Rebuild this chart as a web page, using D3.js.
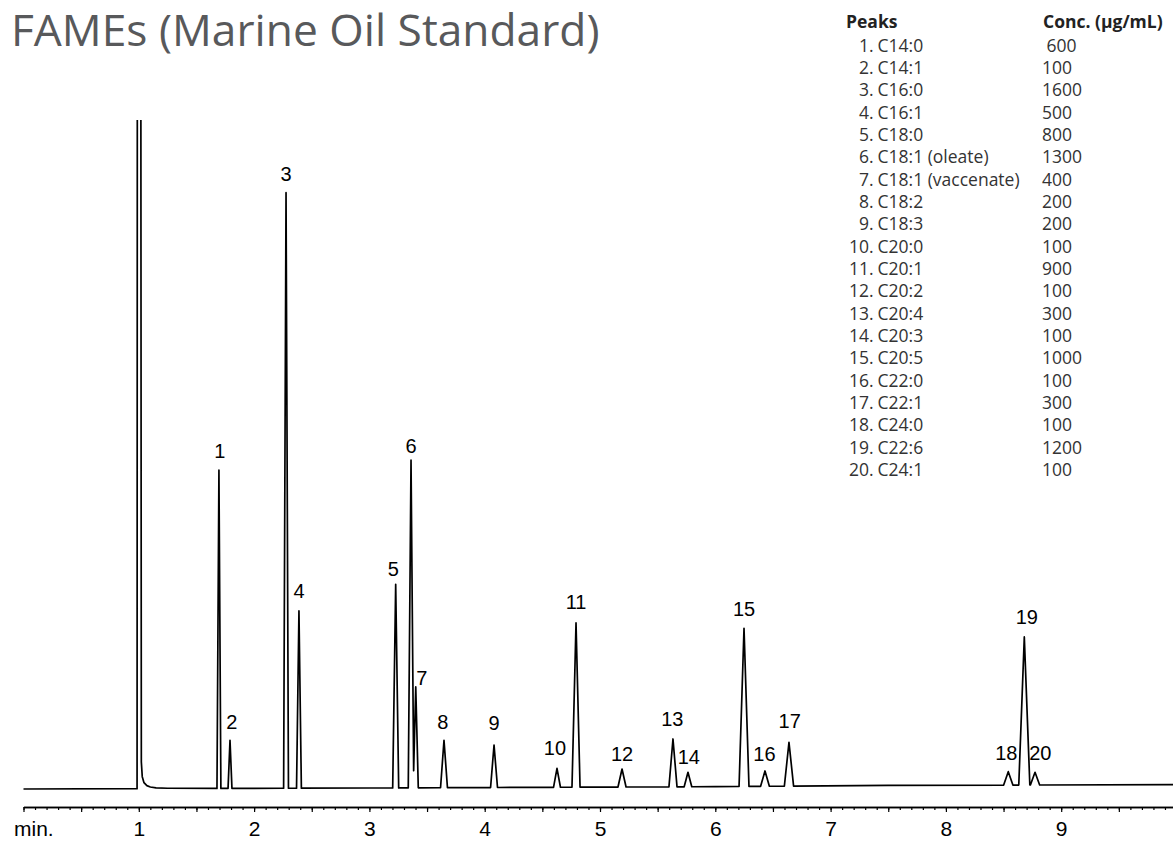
<!DOCTYPE html>
<html>
<head>
<meta charset="utf-8">
<script src="https://cdn.jsdelivr.net/npm/d3@7"></script>
<style>
  html, body { margin: 0; padding: 0; background: #ffffff; }
  svg { display: block; }
</style>
</head>
<body>
<svg id="chart" width="1173" height="841"></svg>
<script>
// ---------------- DATA ----------------
const chartTitle = "FAMEs (Marine Oil Standard)";
const legendHeaderPeaks = "Peaks";
const legendHeaderConc = "Conc. (µg/mL)";

const peakNumbers = [1, 2, 3, 4, 5, 6, 7, 8, 9, 10, 11, 12, 13, 14, 15, 16, 17, 18, 19, 20];
const peakNames = ["C14:0", "C14:1", "C16:0", "C16:1", "C18:0", "C18:1 (oleate)", "C18:1 (vaccenate)",
  "C18:2", "C18:3", "C20:0", "C20:1", "C20:2", "C20:4", "C20:3", "C20:5", "C22:0", "C22:1",
  "C24:0", "C22:6", "C24:1"];
const peakConc = [" 600", "100", "1600", "500", "800", "1300", "400", "200", "200", "100", "900",
  "100", "300", "100", "1000", "100", "300", "100", "1200", "100"];

// retention time (min), apex signal (arbitrary units, 100 = top of plot), half base width (min)
const peakTimes = [1.695, 1.791, 2.277, 2.389, 3.228, 3.361, 3.402, 3.647, 4.081, 4.627,
  4.792, 5.191, 5.633, 5.763, 6.249, 6.431, 6.639, 8.541, 8.680, 8.773];
const peakHeights = [47.8, 7.3, 89.4, 26.7, 30.7, 49.3, 15.3, 7.3, 6.6, 3.1,
  24.9, 3.0, 7.5, 2.5, 24.1, 2.7, 7.0, 2.6, 22.8, 2.5];
const peakHalfWidths = [0.017, 0.017, 0.021, 0.021, 0.026, 0.024, 0.022, 0.030, 0.030, 0.030,
  0.035, 0.035, 0.035, 0.033, 0.043, 0.038, 0.040, 0.040, 0.048, 0.040];

// solvent peak (off scale) with its tail
const solventTimes = [0.985, 0.988, 1.016, 1.022, 1.030, 1.045, 1.070, 1.100, 1.150, 1.250];
const solventSignal = [0, 150, 150, 4.0, 1.8, 0.9, 0.45, 0.25, 0.12, 0.05];

// slight baseline drift
const driftTimes = [0, 3, 6, 7.5, 10];
const driftLevels = [0, 0.15, 0.35, 0.55, 0.65];

// axis
const axisLabels = [1, 2, 3, 4, 5, 6, 7, 8, 9];
const axisUnit = "min.";

// ---------------- LAYOUT ----------------
const W = 1173, H = 841;
const svg = d3.select("#chart");
const x = d3.scaleLinear().domain([0, 10]).range([23.5, 1176.5]);
const y = d3.scaleLinear().domain([0, 100]).range([789, 122]);
const drift = d3.scaleLinear().domain(driftTimes).range(driftLevels).clamp(true);

// label nudges [dx, gap above apex]
const labelNudge = [[1, 11.7], [1.7, 11], [0, 11.4], [0, 13], [-2.4, 8.3], [0, 6.7], [6, 1.7], [-1.3, 11.7],
  [0, 15], [-2, 13.4], [0, 14.4], [0, 8.3], [-0.6, 12.6], [0.8, 8.4], [0, 12.7], [-0.6, 10],
  [0.7, 14], [-2, 11.7], [2.5, 13.4], [5.3, 12]];

// ---------------- TITLE ----------------
svg.append("text")
  .attr("x", 11).attr("y", 45.5)
  .attr("font-family", "'Open Sans', 'Noto Sans', sans-serif")
  .attr("font-size", 44.3)
  .attr("fill", "#58595b")
  .text(chartTitle);

// ---------------- LEGEND ----------------
const legend = svg.append("g")
  .attr("font-family", "'Open Sans', 'Noto Sans', sans-serif")
  .attr("font-size", 17.5)
  .attr("fill", "#333333");
legend.append("text").attr("x", 846).attr("y", 28.3).attr("font-weight", "bold").attr("fill", "#222")
  .text(legendHeaderPeaks);
legend.append("text").attr("x", 1043).attr("y", 28.3).attr("font-weight", "bold").attr("fill", "#222")
  .text(legendHeaderConc);
const rowY = i => 51.5 + i * 22.35;
legend.selectAll("text.num").data(peakNumbers).join("text").attr("class", "num")
  .attr("x", 873.5).attr("y", (d, i) => rowY(i)).attr("text-anchor", "end")
  .text(d => d + ".");
legend.selectAll("text.name").data(peakNames).join("text").attr("class", "name")
  .attr("x", 877.5).attr("y", (d, i) => rowY(i))
  .text(d => d);
legend.selectAll("text.conc").data(peakConc).join("text").attr("class", "conc")
  .attr("x", 1042).attr("y", (d, i) => rowY(i))
  .style("white-space", "pre")
  .text(d => d);

// ---------------- TRACE ----------------
const peaks = peakTimes.map((t, i) => ({ t, h: peakHeights[i], w: peakHalfWidths[i] }));
peaks.forEach(p => {
  p.L = [p.t - p.w, drift(p.t - p.w)];
  p.R = [p.t + p.w, drift(p.t + p.w)];
});
function intersect(p1, p2, p3, p4) {
  const d = (p1[0] - p2[0]) * (p3[1] - p4[1]) - (p1[1] - p2[1]) * (p3[0] - p4[0]);
  const a = p1[0] * p2[1] - p1[1] * p2[0];
  const b = p3[0] * p4[1] - p3[1] * p4[0];
  return [(a * (p3[0] - p4[0]) - (p1[0] - p2[0]) * b) / d,
          (a * (p3[1] - p4[1]) - (p1[1] - p2[1]) * b) / d];
}
for (let i = 0; i < peaks.length - 1; i++) {
  const a = peaks[i], b = peaks[i + 1];
  if (a.R[0] > b.L[0]) {
    const v = intersect([a.t, a.h], a.R, b.L, [b.t, b.h]);
    a.R = v; b.L = v;
  }
}
let verts = [];
driftTimes.forEach((t, i) => verts.push([t, driftLevels[i]]));
solventTimes.forEach((t, i) => verts.push([t, solventSignal[i] + drift(t)]));
peaks.forEach(p => { verts.push(p.L, [p.t, p.h], p.R); });
verts.sort((a, b) => a[0] - b[0]);

svg.append("clipPath").attr("id", "plotClip")
  .append("rect").attr("x", 0).attr("y", 120).attr("width", W).attr("height", 690);

const line = d3.line().x(d => x(d[0])).y(d => y(d[1]));
svg.append("path")
  .attr("clip-path", "url(#plotClip)")
  .attr("d", line(verts))
  .attr("fill", "none")
  .attr("stroke", "#000")
  .attr("stroke-width", 1.7)
  .attr("stroke-linejoin", "round");

// ---------------- PEAK LABELS ----------------
svg.append("g")
  .attr("font-family", "'Liberation Sans', Arial, sans-serif")
  .attr("font-size", 20)
  .attr("fill", "#000")
  .attr("text-anchor", "middle")
  .selectAll("text").data(peaks).join("text")
  .attr("x", (p, i) => x(p.t) + labelNudge[i][0])
  .attr("y", (p, i) => y(p.h) - labelNudge[i][1])
  .text((p, i) => peakNumbers[i]);

// ---------------- AXIS ----------------
const axisY = 807;
const minorAxis = d3.axisBottom(x).tickValues(d3.range(0, 101).map(i => i / 10))
  .tickSize(3).tickSizeOuter(0).tickFormat("");
const majorAxis = d3.axisBottom(x).tickValues(d3.range(0, 21).map(i => i / 2))
  .tickSize(5).tickSizeOuter(0).tickFormat("");
const labelAxis = d3.axisBottom(x).tickValues(axisLabels)
  .tickSize(0).tickSizeOuter(0).tickPadding(14.5).tickFormat(d3.format("d"));

const gMinor = svg.append("g").attr("transform", `translate(0,${axisY})`).call(minorAxis);
const gMajor = svg.append("g").attr("transform", `translate(0,${axisY})`).call(majorAxis);
const gLab = svg.append("g").attr("transform", `translate(0,${axisY})`).call(labelAxis);
[gMinor, gMajor].forEach(g => {
  g.selectAll("line").attr("stroke", "#000").attr("stroke-width", 1.2);
  g.select(".domain").attr("stroke", "#000").attr("stroke-width", 1.4);
});
gLab.select(".domain").remove();
gLab.selectAll("text")
  .attr("font-family", "'Liberation Sans', Arial, sans-serif")
  .attr("font-size", 21)
  .attr("fill", "#000");

svg.append("text")
  .attr("x", 14).attr("y", 836.3)
  .attr("font-family", "'Liberation Sans', Arial, sans-serif")
  .attr("font-size", 21)
  .attr("fill", "#000")
  .text(axisUnit);
</script>
</body>
</html>
